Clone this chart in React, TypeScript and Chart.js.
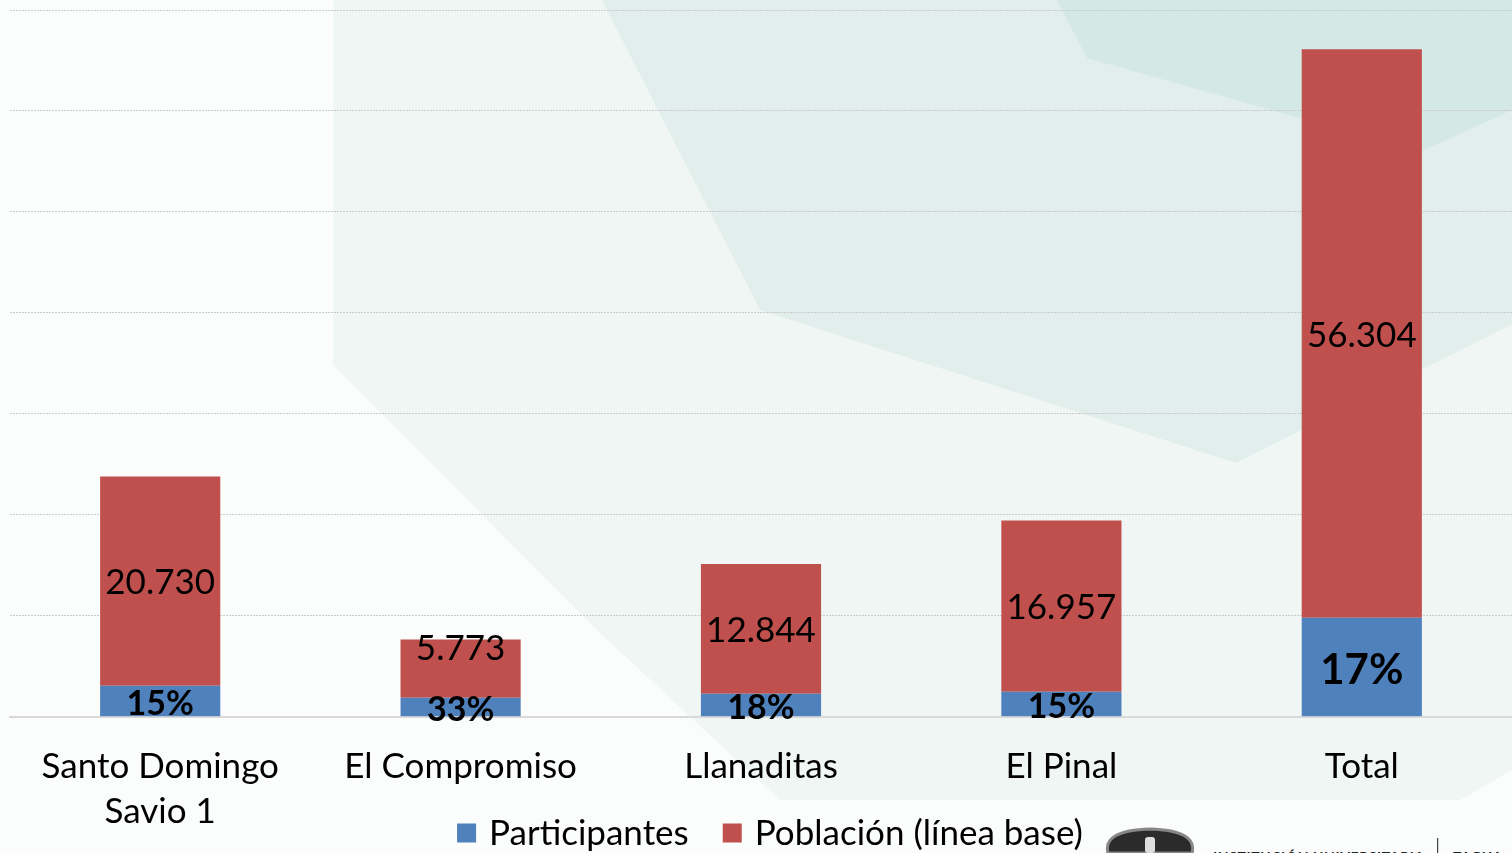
import React, { useEffect, useRef } from "react";
import { Chart, registerables } from "chart.js";

Chart.register(...registerables);

const categories: (string | string[])[] = [
  ["Santo Domingo", "Savio 1"],
  "El Compromiso",
  "Llanaditas",
  "El Pinal",
  "Total",
];
const participantes = [3070, 1880, 2280, 2480, 9800];
const poblacion = [20730, 5773, 12844, 16957, 56304];
const poblacionLabels = ["20.730", "5.773", "12.844", "16.957", "56.304"];
const pctLabels = ["15%", "33%", "18%", "15%", "17%"];
const seriesNames = ["Participantes", "Población (línea base)"];

const BLUE = "#4F81BD";
const RED = "#C0504D";
const FONT = "Lato, 'Open Sans', sans-serif";

const labelPlugin = {
  id: "barLabels",
  afterDatasetsDraw(chart: any) {
    const ctx = chart.ctx;
    const metaP = chart.getDatasetMeta(0);
    const metaR = chart.getDatasetMeta(1);
    ctx.save();
    ctx.textAlign = "center";
    ctx.textBaseline = "middle";
    ctx.fillStyle = "#000";
    metaR.data.forEach((bar: any, i: number) => {
      const top = bar.y;
      const bottom = bar.base;
      const h = bottom - top;
      let y = (top + bottom) / 2 + 2;
      if (h < 70) y = top + 9;
      ctx.font = `35px ${FONT}`;
      ctx.fillText(poblacionLabels[i], bar.x, y);
    });
    metaP.data.forEach((bar: any, i: number) => {
      const top = bar.y;
      const bottom = bar.base;
      const y = (top + bottom) / 2 + 3.5;
      const big = i === metaP.data.length - 1;
      ctx.font = `bold ${big ? 42 : 34}px ${FONT}`;
      ctx.fillText(pctLabels[i], bar.x, y);
    });
    ctx.restore();
  },
};

const legendPlugin = {
  id: "customLegend",
  afterDraw(chart: any) {
    const ctx = chart.ctx;
    ctx.save();
    ctx.font = `35px ${FONT}`;
    ctx.textBaseline = "middle";
    ctx.textAlign = "left";
    const box = 19;
    const gapBoxText = 13;
    const gapItems = 34;
    const items = chart.data.datasets.map((d: any) => ({
      label: d.label,
      color: d.backgroundColor,
      w: box + gapBoxText + ctx.measureText(d.label).width,
    }));
    const total = items.reduce((s: number, it: any) => s + it.w, 0) + gapItems * (items.length - 1);
    const area = chart.chartArea;
    let x = (area.left + area.right) / 2 + 9 - total / 2;
    const y = 833;
    items.forEach((it: any) => {
      ctx.fillStyle = it.color;
      ctx.fillRect(x, y - box / 2, box, box);
      ctx.fillStyle = "#000";
      ctx.fillText(it.label, x + box + gapBoxText, y + 1);
      x += it.w + gapItems;
    });
    ctx.restore();
  },
};

function Background() {
  return (
    <svg
      width={1512}
      height={853}
      style={{ position: "absolute", left: 0, top: 0 }}
      xmlns="http://www.w3.org/2000/svg"
    >
      <rect x={0} y={0} width={1512} height={853} fill="#fbfdfc" />
      <polygon
        points="333,0 1512,0 1512,770 1460,800 780,800 600,633 333,365"
        fill="#f0f6f4"
      />
      <polygon points="602,0 1512,0 1512,324 1236,463 760,310" fill="#e1eeeb" />
      <polygon points="1057,0 1512,0 1512,110 1420,152 1087,58" fill="#d4e9e6" />
      <g>
        <path
          d="M1108,853 C1104,838 1118,830 1150,829 C1182,830 1196,838 1192,853 Z"
          fill="#2b2b2b"
          stroke="#888"
          strokeWidth={3}
        />
        <rect x={1145} y={837} width={10} height={16} fill="#ddd" rx={3} />
        <text
          x={1213}
          y={862}
          fontFamily="Lato, sans-serif"
          fontWeight="bold"
          fontSize={14}
          letterSpacing={0.6}
          fill="#222"
        >
          INSTITUCIÓN UNIVERSITARIA
        </text>
        <rect x={1437} y={838} width={1.2} height={15} fill="#444" />
        <text
          x={1453}
          y={862}
          fontFamily="Lato, sans-serif"
          fontWeight="bold"
          fontSize={14}
          letterSpacing={0.6}
          fill="#222"
        >
          TAGUA
        </text>
      </g>
    </svg>
  );
}

export default function App() {
  const ref = useRef<HTMLCanvasElement | null>(null);
  useEffect(() => {
    if (!ref.current) return;
    const chart = new Chart(ref.current, {
      type: "bar",
      data: {
        labels: categories,
        datasets: [
          {
            label: seriesNames[0],
            data: participantes,
            backgroundColor: BLUE,
            borderWidth: 0,
            categoryPercentage: 0.4,
            barPercentage: 1,
          },
          {
            label: seriesNames[1],
            data: poblacion,
            backgroundColor: RED,
            borderWidth: 0,
            categoryPercentage: 0.4,
            barPercentage: 1,
          },
        ],
      },
      options: {
        responsive: false,
        animation: false,
        layout: { padding: { left: 10, right: 0, top: 10, bottom: -8 } },
        plugins: {
          legend: { display: false },
          tooltip: { enabled: false },
        },
        scales: {
          x: {
            stacked: true,
            grid: { display: false, drawTicks: false, tickLength: 0 },
            border: { display: true, color: "#d9d9d9", width: 2 },
            ticks: {
              color: "#000",
              padding: 27,
              maxRotation: 0,
              autoSkip: false,
              font: { family: FONT, size: 35, lineHeight: 1.29 },
            },
          },
          y: {
            stacked: true,
            min: 0,
            max: 70000,
            ticks: { display: false, stepSize: 10000 },
            border: { display: false, dash: [2, 1] },
            grid: { color: "#cbcbcb", lineWidth: 1, drawTicks: false, tickLength: 0 },
          },
        },
      },
      plugins: [labelPlugin, legendPlugin],
    });
    return () => chart.destroy();
  }, []);
  return (
    <div style={{ position: "fixed", left: 0, top: 0, width: 1512, height: 853, overflow: "hidden" }}>
      <Background />
      <canvas ref={ref} width={1512} height={853} style={{ position: "absolute", left: 0, top: 0 }} />
    </div>
  );
}
